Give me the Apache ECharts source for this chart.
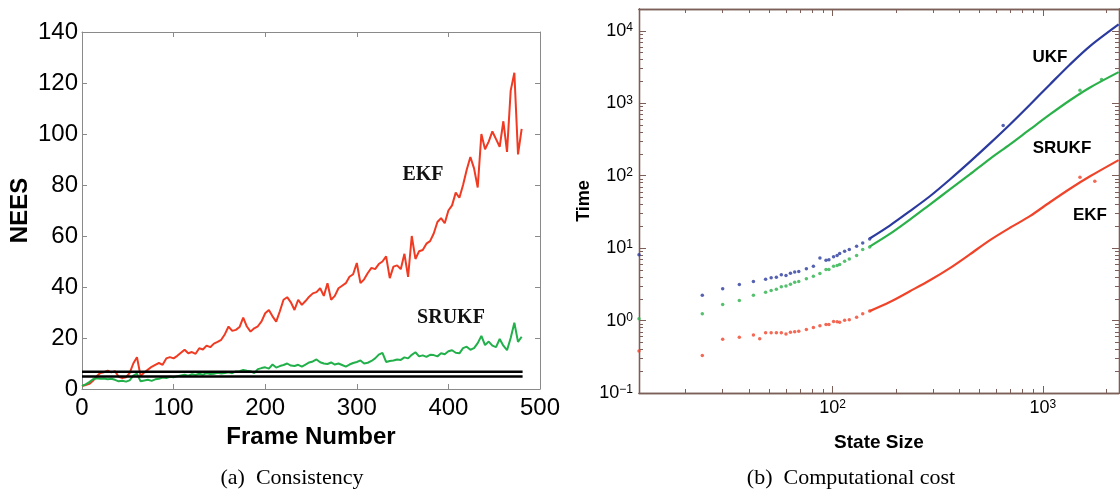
<!DOCTYPE html>
<html><head><meta charset="utf-8">
<script src="https://cdn.jsdelivr.net/npm/echarts@6/dist/echarts.min.js"></script>
<style>html,body{margin:0;padding:0;background:#fff}#c{width:1120px;height:490px}</style>
</head><body><div id="c"></div>
<script>
// ---------- (a) Consistency ----------
const frames = [0,4,8,12,16,20,24,28,32,36,40,44,48,52,56,60,64,68,72,76,80,84,88,92,96,100,104,108,112,116,120,124,128,132,136,140,144,148,152,156,160,164,168,172,176,180,184,188,192,196,200,204,208,212,216,220,224,228,232,236,240,244,248,252,256,260,264,268,272,276,280,284,288,292,296,300,304,308,312,316,320,324,328,332,336,340,344,348,352,356,360,364,368,372,376,380,384,388,392,396,400,404,408,412,416,420,424,428,432,436,440,444,448,452,456,460,464,468,472,476,480];
const ekfNees = [1.2,1.6,2.0,3.2,5.0,6.3,6.6,7.2,6.5,7.0,4.8,4.3,4.6,6.2,10.0,12.5,5.0,6.5,7.6,8.7,9.5,10.2,9.5,12.0,12.5,12.0,13.0,14.2,15.4,14.0,14.5,13.8,16.0,15.5,17.0,16.4,17.8,18.5,19.3,21.5,24.5,22.8,23.2,24.3,28.0,24.5,22.5,23.8,24.6,26.5,29.7,31.0,28.5,26.4,30.5,35.0,36.0,34.0,31.0,35.0,33.0,34.5,36.2,37.5,38.0,39.5,36.5,41.5,35.0,36.5,39.5,40.5,41.5,44.0,45.0,49.4,41.5,43.0,45.5,47.5,47.0,49.0,50.0,52.0,43.5,48.0,48.5,47.0,53.0,44.0,60.0,51.0,54.0,54.5,57.0,58.0,61.0,65.5,67.0,65.0,70.0,72.0,77.0,75.0,80.0,86.0,91.0,86.5,79.0,100.0,94.0,97.0,101.0,98.0,95.0,105.0,93.0,117.0,124.0,92.0,102.0];
const srukfNees = [1.2,1.8,2.7,3.8,4.2,4.0,4.1,3.8,4.0,3.6,3.0,3.2,2.9,3.4,5.2,6.0,3.0,3.3,3.6,3.2,3.8,4.0,4.5,4.3,4.8,4.6,5.0,5.3,5.6,5.2,5.8,5.5,6.0,5.6,6.2,5.9,6.0,6.4,6.1,6.3,6.6,6.2,6.9,7.0,7.5,7.2,7.0,6.2,7.8,8.2,8.5,8.0,9.6,8.4,9.0,9.4,10.0,9.2,9.0,9.5,8.8,9.6,10.4,10.8,11.6,10.5,10.0,9.8,10.4,9.6,10.0,9.4,8.8,9.6,10.2,10.6,11.2,10.0,10.3,11.0,12.0,13.5,14.2,10.6,11.0,11.2,11.6,11.4,12.4,12.0,13.4,14.4,12.8,13.2,12.6,13.4,13.3,12.8,14.0,13.6,14.8,15.2,14.2,14.0,16.0,16.6,15.4,16.0,18.0,20.8,17.2,18.6,17.0,16.4,19.6,17.0,15.2,20.0,26.0,18.5,20.5];
const boundFrames = [0, 481];
const boundLower = 4.9;
const boundUpper = 6.8;
const neesTicks = {min: 0, max: 140, step: 20};
const frameTicks = {min: 0, max: 500, step: 100};

// ---------- (b) Computational cost ----------
const sizeSparse  = [12, 24, 30, 36, 42, 45, 48, 51, 54, 57, 60, 63, 66, 69, 75, 81, 87, 93, 96, 101, 105, 108, 114, 120, 130, 139, 150, 647, 1500, 1765, 1900];
const ukfSparse   = [8.1, 2.24, 2.74, 3.14, 3.46, null, 3.72, 3.9, 3.96, 4.28, 4.19, 4.5, 4.7, 4.75, 5.2, 5.6, 7.3, 6.8, 6.9, 7.6, 7.9, 8.4, 9.06, 9.6, 10.6, 11.8, 13.4, 493, null, null, null];
const srukfSparse = [1.06, 1.24, 1.66, 1.89, 2.24, null, 2.46, 2.6, 2.71, 2.92, 3.01, 3.18, 3.38, 3.46, 3.77, 4.09, 4.46, 5.06, 5.06, 5.62, 5.75, 5.93, 6.59, 7.1, 7.9, 9.6, 10.4, null, 1517, null, 2130];
const ekfSparse   = [0.38, 0.33, 0.55, 0.59, 0.63, 0.56, 0.68, 0.68, 0.68, 0.68, 0.65, 0.69, 0.70, 0.71, 0.75, 0.80, 0.85, 0.88, 0.88, 0.97, 0.96, 0.95, 1.01, 1.03, 1.11, 1.24, 1.35, null, 95, 84, null];
const sizeDense  = [150, 187, 233, 290, 361, 449, 560, 697, 867, 1080, 1345, 1675, 2290];
const ukfDense   = [13.6, 20.5, 32.4, 52, 88.6, 155, 279, 509, 953, 1820, 3435, 6150, 12250];
const srukfDense = [10.5, 15.7, 24.8, 40, 64.5, 104, 171, 270, 435, 700, 1100, 1650, 2690];
const ekfDense   = [1.35, 1.8, 2.54, 3.6, 5.3, 8.2, 12.9, 19.1, 27.6, 43, 66, 98, 164];
const sizeMajor = [100, 1000];
const sizeMinor = [20, 30, 40, 50, 60, 70, 80, 90, 200, 300, 400, 500, 600, 700, 800, 900, 2000];
const timeMajor = [0.1, 1, 10, 100, 1000, 10000];
const timeMinor = [0.2,0.3,0.4,0.5,0.6,0.7,0.8,0.9,2,3,4,5,6,7,8,9,20,30,40,50,60,70,80,90,200,300,400,500,600,700,800,900,2000,3000,4000,5000,6000,7000,8000,9000];
const sizeRange = [12, 2300];
const timeRange = [0.1, 20000];

// ---------- build ----------
const zip = (xs, ys) => xs.map((x, i) => [x, ys[i]]);
const sans = 'Liberation Sans, Arial, sans-serif';
const serif = 'Liberation Serif, Times New Roman, serif';
const grayL = '#8a8a8a';
const brown = '#7d5f59';

function linAxis(gi, pos, rng, showLabel, extra) {
  return Object.assign({
    type: 'value', gridIndex: gi, position: pos, min: rng.min, max: rng.max, interval: rng.step,
    axisLine: {show: true, onZero: false, lineStyle: {color: grayL, width: 1}},
    axisTick: {show: true, inside: true, length: 5, lineStyle: {color: grayL}},
    axisLabel: {show: showLabel, fontSize: 24, color: '#000', fontFamily: sans},
    splitLine: {show: false}
  }, extra || {});
}
function supFmt(v) {
  const e = Math.round(Math.log10(v));
  return '{b|10}{e|' + (e < 0 ? '\u2212' + (-e) : e) + '}';
}
const supRich = {
  b: {fontSize: 18, fontFamily: sans, color: '#000', lineHeight: 18, padding: [7, 0, 0, 0], verticalAlign: 'bottom'},
  e: {fontSize: 12, fontFamily: sans, color: '#000', lineHeight: 12, verticalAlign: 'top'}
};
function logAxis(gi, pos, rng, ticks, tickLen, labels, extra) {
  return Object.assign({
    type: 'log', logBase: 10, gridIndex: gi, position: pos, min: rng[0], max: rng[1],
    axisLine: {show: true, onZero: false, lineStyle: {color: brown, width: 1.3}},
    axisTick: {show: true, inside: true, length: tickLen, customValues: ticks, lineStyle: {color: brown, width: 1}},
    axisLabel: labels ? {show: true, customValues: labels, formatter: supFmt, rich: supRich, margin: 6} : {show: false},
    splitLine: {show: false}, minorTick: {show: false}
  }, extra || {});
}

const option = {
  backgroundColor: '#fff',
  animation: false,
  grid: [
    {left: 82, top: 32, width: 458, height: 357},
    {left: 639, top: 9, width: 480, height: 384}
  ],
  xAxis: [
    linAxis(0, 'bottom', frameTicks, true, {
      name: 'Frame Number', nameLocation: 'middle', nameGap: 30,
      nameTextStyle: {fontSize: 24, fontWeight: 'bold', color: '#000', fontFamily: sans},
      axisLabel: {show: true, fontSize: 24, color: '#000', fontFamily: sans, margin: 7}
    }),
    linAxis(0, 'top', frameTicks, false),
    logAxis(1, 'bottom', sizeRange, sizeMajor, 7, sizeMajor, {
      name: 'State Size', nameLocation: 'middle', nameGap: 40,
      nameTextStyle: {fontSize: 19, fontWeight: 'bold', color: '#000', fontFamily: sans}
    }),
    logAxis(1, 'bottom', sizeRange, sizeMinor, 4, null),
    logAxis(1, 'top', sizeRange, sizeMajor, 7, null),
    logAxis(1, 'top', sizeRange, sizeMinor, 4, null)
  ],
  yAxis: [
    linAxis(0, 'left', neesTicks, true, {
      name: 'NEES', nameLocation: 'middle', nameGap: 50, nameRotate: 90,
      nameTextStyle: {fontSize: 24, fontWeight: 'bold', color: '#000', fontFamily: sans},
      axisLabel: {show: true, fontSize: 24, color: '#000', fontFamily: sans, margin: 4}
    }),
    linAxis(0, 'right', neesTicks, false),
    logAxis(1, 'left', timeRange, timeMajor, 7, timeMajor, {
      name: 'Time', nameLocation: 'middle', nameGap: 46, nameRotate: 90,
      nameTextStyle: {fontSize: 18, fontWeight: 'bold', color: '#000', fontFamily: sans}
    }),
    logAxis(1, 'left', timeRange, timeMinor, 4, null),
    logAxis(1, 'right', timeRange, timeMajor, 7, null),
    logAxis(1, 'right', timeRange, timeMinor, 4, null)
  ],
  series: [
    {type: 'line', name: 'EKF', xAxisIndex: 0, yAxisIndex: 0, data: zip(frames, ekfNees), showSymbol: false, symbol: 'none',
     lineStyle: {color: '#f03a22', width: 2}},
    {type: 'line', name: 'SRUKF', xAxisIndex: 0, yAxisIndex: 0, data: zip(frames, srukfNees), showSymbol: false, symbol: 'none',
     lineStyle: {color: '#22b04a', width: 2}},
    {type: 'line', name: 'bound-lo', xAxisIndex: 0, yAxisIndex: 0, data: zip(boundFrames, [boundLower, boundLower]), symbol: 'none',
     lineStyle: {color: '#000', width: 2.5}},
    {type: 'line', name: 'bound-hi', xAxisIndex: 0, yAxisIndex: 0, data: zip(boundFrames, [boundUpper, boundUpper]), symbol: 'none',
     lineStyle: {color: '#000', width: 2.5}},

    {type: 'line', name: 'UKF', xAxisIndex: 2, yAxisIndex: 2, data: zip(sizeDense, ukfDense), symbol: 'none', smooth: 0.3,
     lineStyle: {color: '#2a3a9e', width: 2.2}},
    {type: 'line', name: 'SRUKF cost', xAxisIndex: 2, yAxisIndex: 2, data: zip(sizeDense, srukfDense), symbol: 'none', smooth: 0.3,
     lineStyle: {color: '#2bb14a', width: 2.2}},
    {type: 'line', name: 'EKF cost', xAxisIndex: 2, yAxisIndex: 2, data: zip(sizeDense, ekfDense), symbol: 'none', smooth: 0.3,
     lineStyle: {color: '#f0442a', width: 2.2}},
    {type: 'scatter', xAxisIndex: 2, yAxisIndex: 2, data: zip(sizeSparse, ukfSparse).filter(p => p[1] != null), symbolSize: 3.5,
     itemStyle: {color: '#2a3a9e'}},
    {type: 'scatter', xAxisIndex: 2, yAxisIndex: 2, data: zip(sizeSparse, srukfSparse).filter(p => p[1] != null), symbolSize: 3.5,
     itemStyle: {color: '#2bb14a'}},
    {type: 'scatter', xAxisIndex: 2, yAxisIndex: 2, data: zip(sizeSparse, ekfSparse).filter(p => p[1] != null), symbolSize: 3.5,
     itemStyle: {color: '#f0442a'}}
  ],
  graphic: [
    {type: 'text', x: 423, y: 175, style: {text: 'EKF', font: 'bold 20px ' + serif, fill: '#111', align: 'center', verticalAlign: 'middle'}},
    {type: 'text', x: 451, y: 318, style: {text: 'SRUKF', font: 'bold 20px ' + serif, fill: '#111', align: 'center', verticalAlign: 'middle'}},
    {type: 'text', x: 1050, y: 57, style: {text: 'UKF', font: 'bold 17px ' + sans, fill: '#000', align: 'center', verticalAlign: 'middle'}},
    {type: 'text', x: 1062, y: 148, style: {text: 'SRUKF', font: 'bold 17px ' + sans, fill: '#000', align: 'center', verticalAlign: 'middle'}},
    {type: 'text', x: 1090, y: 215, style: {text: 'EKF', font: 'bold 17px ' + sans, fill: '#000', align: 'center', verticalAlign: 'middle'}},
    {type: 'text', x: 292, y: 478, style: {text: '(a)  Consistency', font: '22px ' + serif, fill: '#000', align: 'center', verticalAlign: 'middle'}},
    {type: 'text', x: 851, y: 478, style: {text: '(b)  Computational cost', font: '22px ' + serif, fill: '#000', align: 'center', verticalAlign: 'middle'}}
  ]
};
const chart = echarts.init(document.getElementById('c'), null, {renderer: 'canvas'});
chart.setOption(option);
</script>
</body></html>
